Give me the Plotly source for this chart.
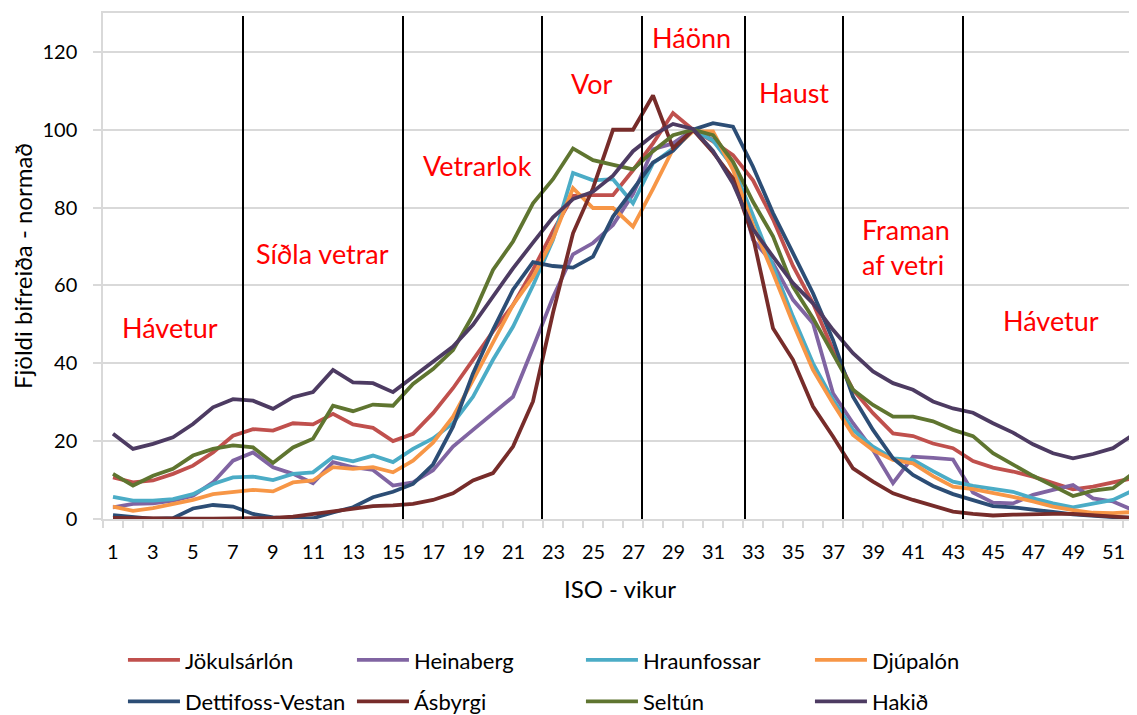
import plotly.graph_objects as go

weeks = list(range(1, 53))
tick_weeks = list(range(1, 52, 2))

jokulsarlon = [10.7, 9.4, 9.9, 11.6, 13.7, 17.1, 21.4, 23.1, 22.7, 24.6, 24.3, 27, 24.3, 23.4, 20, 21.9,
               27.2, 33.6, 40.9, 48.2, 55, 64, 74, 83, 83.2, 83.2, 89.6, 96.5, 104.3, 100, 97, 93.5,
               87, 77, 65, 55.4, 43.4, 33.2, 27.2, 22, 21.3, 19.4, 18.2, 14.9, 13.2, 12.2, 10.9, 9.2,
               7.6, 8.3, 9.3, 10.5]
heinaberg = [3, 3.9, 4, 4.7, 6, 9.4, 15, 17.1, 13.3, 11.6, 9.2, 14.6, 13.3, 12.6, 8.6, 9.4,
             12.5, 18.6, 22.9, 27.2, 31.4, 44, 57, 68, 70.9, 75.5, 83.5, 95, 96.5, 100, 97.4, 90.6,
             71.7, 65.7, 56.3, 50.3, 32.3, 24.6, 17.7, 9.2, 16, 15.7, 15.3, 6.8, 4.2, 4, 6.2, 7.5,
             8.7, 5.3, 4.5, 2.3]
hraunfossar = [5.7, 4.7, 4.7, 5.1, 6.4, 9, 10.7, 10.9, 10, 11.6, 12, 15.9, 14.8, 16.3, 14.6, 18,
               20.7, 24.6, 31.4, 40.9, 49.4, 60, 71.7, 88.9, 87, 87.3, 81.1, 91.4, 95.2, 100, 97.2, 90.5,
               78, 64.9, 52, 40, 30.6, 22.9, 18.6, 15.6, 15.2, 12.3, 9.6, 8.5, 7.8, 7, 5.3, 4,
               3, 4, 4.9, 7.3]
djupalon = [3.2, 2.1, 2.8, 3.9, 4.9, 6.4, 6.9, 7.5, 7.1, 9.4, 9.9, 13.3, 12.9, 13.3, 12, 15,
            19.6, 26.3, 35.7, 45.6, 55, 62.2, 72, 85, 79.9, 79.9, 75.1, 84.8, 95, 99.6, 99.6, 89.7,
            75.5, 63.2, 50.3, 38.3, 29.7, 21.6, 17.7, 15.2, 14.3, 11, 8.3, 7.7, 6.8, 5.7, 4.5, 3.2,
            2.3, 1.6, 1.5, 1.8]
dettifoss = [1, 0.6, 0, 0.2, 2.7, 3.6, 3.2, 1.3, 0.4, 0, 0.2, 1.7, 3, 5.6, 7, 9,
             14, 23.7, 37.4, 48.6, 58.9, 66, 65, 64.6, 67.4, 77.7, 84.8, 91.6, 94.6, 100, 101.7, 100.8,
             90.5, 78.6, 68.3, 58, 46, 31.4, 22.9, 15.6, 11.3, 8.5, 6.4, 4.9, 3.3, 3, 2.3, 1.8,
             1.2, 0.8, 0.5, 0.3]
asbyrgi = [0.3, 0.2, 0.1, 0.1, 0.1, 0.1, 0.1, 0.2, 0.3, 0.6, 1.3, 2.1, 2.8, 3.3, 3.5, 3.9,
           4.9, 6.6, 9.9, 11.8, 18.6, 30.2, 53, 73.4, 85, 100, 100, 108.8, 95.3, 100, 94.2, 87.5,
           72.5, 49, 40.9, 28.9, 21.2, 13, 9.6, 6.6, 4.9, 3.4, 1.9, 1.3, 0.9, 1.1, 1.3, 1.3,
           1.3, 1, 0.6, 0.3]
seltun = [11.6, 8.6, 11.1, 12.9, 16.3, 18, 18.9, 18.4, 14.4, 18.4, 20.6, 29.1, 27.7, 29.4, 29.1, 34.7,
          38.5, 43.4, 52.4, 64, 71.3, 81.1, 87.3, 95.2, 92.2, 91, 89.8, 94.5, 98.6, 100, 98.6, 91.8,
          81.5, 72.6, 59.7, 51.6, 42.6, 33.2, 29.3, 26.3, 26.3, 25.1, 22.9, 21.3, 16.9, 13.9, 11.1, 8.5,
          5.9, 7.3, 7.9, 11.7]
hakid = [21.9, 18, 19.3, 21, 24.4, 28.7, 30.8, 30.4, 28.3, 31.3, 32.6, 38.3, 35.1, 34.9, 32.6, 36.4,
         40.2, 44.3, 49.9, 57.2, 64.4, 71, 77.5, 82.2, 84.1, 88.2, 94.5, 98.6, 101.5, 100.2, 94.6, 86.2,
         74.5, 67.4, 60.6, 55.4, 48.6, 42.6, 37.9, 34.9, 33.2, 30.2, 28.4, 27.3, 24.6, 22.2, 19.2, 16.9,
         15.6, 16.7, 18.2, 21.6]

names = ["Jökulsárlón", "Heinaberg", "Hraunfossar", "Djúpalón",
         "Dettifoss-Vestan", "Ásbyrgi", "Seltún", "Hakið"]
series = [jokulsarlon, heinaberg, hraunfossar, djupalon, dettifoss, asbyrgi, seltun, hakid]
colors = ["#C0504D", "#8064A2", "#4BACC6", "#F79646",
          "#2C4D75", "#772C2A", "#5F7530", "#4D3B62"]

# season borders (weeks) and season labels
borders = [7.5, 15.5, 22.45, 27.45, 32.6, 37.5, 43.5]
seasons = ["Hávetur", "Síðla vetrar", "Vetrarlok", "Vor", "Háönn", "Haust", "Framan<br>af vetri", "Hávetur"]
season_x = [3.84, 11.49, 19.23, 24.93, 29.93, 35.03, 38.33, 47.9]
season_y = [49.3, 68.3, 90.9, 112, 123.8, 109.7, 69.9, 51.1]

FONT = "Lato"

fig = go.Figure()
for i in range(len(names)):
    fig.add_trace(go.Scatter(x=weeks, y=series[i], mode='lines', name=names[i],
                             line=dict(color=colors[i], width=3.8),
                             legend='legend' if i < 4 else 'legend2'))

for b in borders:
    fig.add_shape(type='line', x0=b, x1=b, y0=0, y1=129.2, xref='x', yref='y',
                  line=dict(color='black', width=2))

for i in range(len(seasons)):
    fig.add_annotation(x=season_x[i], y=season_y[i], text=seasons[i], showarrow=False,
                       font=dict(family=FONT, size=27, color='#FF0000'),
                       xanchor='left' if i == 6 else 'center', align='left')

# week labels sit lower under the axis than plotly's own tick labels would,
# so they're placed on the x scale as annotations
for w in tick_weeks:
    fig.add_annotation(x=w, xref='x', y=-0.0632, yref='paper', text=str(w), showarrow=False,
                       font=dict(family=FONT, size=20, color='black'), yanchor='middle')
fig.add_annotation(x=0.5, xref='paper', y=-0.1364, yref='paper', text='ISO - vikur',
                   showarrow=False, font=dict(family=FONT, size=24, color='black'), yanchor='middle')

# page body has an 8px margin, so the figure is 8px smaller than the window
leg = dict(orientation='h', x=0.0193, xanchor='left', yanchor='middle',
           entrywidth=162, entrywidthmode='pixels', itemwidth=52,
           font=dict(family=FONT, size=22, color='black'))
fig.update_layout(
    width=1129, height=707,
    margin=dict(l=95, r=0, t=5, b=196, autoexpand=False),
    plot_bgcolor='white', paper_bgcolor='white',
    font=dict(family=FONT, size=20, color='black'),
    legend=dict(leg, y=-0.279),
    legend2=dict(leg, y=-0.361),
)
fig.update_xaxes(range=[0.5, 52.2], tickvals=tick_weeks, showticklabels=False,
                 ticks='', showgrid=False, zeroline=False, automargin=False,
                 showline=True, linecolor='#D9D9D9', linewidth=1.5, mirror=True,
                 minor=dict(tickvals=[w + 0.5 for w in range(0, 53)], ticks='outside',
                            ticklen=7, tickcolor='#D9D9D9', tickwidth=1.5))
fig.update_yaxes(range=[0, 130], tickvals=[0, 20, 40, 60, 80, 100, 120],
                 ticks='outside', ticklen=8, tickcolor='#D9D9D9', tickwidth=1.5,
                 showgrid=True, gridcolor='#D9D9D9', gridwidth=1.5, zeroline=False,
                 showline=True, linecolor='#D9D9D9', linewidth=1.5, automargin=False,
                 title=dict(text='Fjöldi bifreiða - normað', standoff=7, font=dict(size=24)),
                 tickfont=dict(size=20), ticklabelstandoff=12)

fig.write_html("out.html")
